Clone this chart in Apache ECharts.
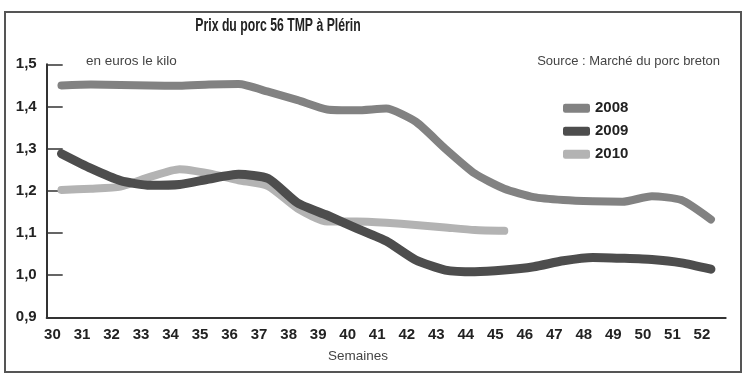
<!DOCTYPE html>
<html>
<head>
<meta charset="utf-8">
<script src="https://cdn.jsdelivr.net/npm/echarts@6/dist/echarts.min.js"></script>
<style>html,body{margin:0;padding:0;background:#fff}#c{width:747px;height:378px}</style>
</head>
<body>
<div id="c"></div>
<script>
var weeks = ['30','31','32','33','34','35','36','37','38','39','40','41','42','43','44','45','46','47','48','49','50','51','52'];
var p2008 = [1.450,1.452,1.451,1.450,1.449,1.452,1.453,1.435,1.415,1.393,1.391,1.395,1.364,1.300,1.241,1.205,1.185,1.178,1.175,1.174,1.187,1.178,1.132];
var p2009 = [1.288,1.253,1.224,1.213,1.215,1.228,1.239,1.229,1.171,1.142,1.111,1.081,1.036,1.012,1.008,1.012,1.020,1.034,1.042,1.040,1.037,1.029,1.014];
var p2010 = [1.202,1.205,1.210,1.233,1.251,1.241,1.225,1.211,1.158,1.127,1.127,1.124,1.119,1.113,1.107,1.105,null,null,null,null,null,null,null];
var seriesNames = ['2008','2009','2010'];
var titleText = 'Prix du porc 56 TMP à Plérin';
var unitText = 'en euros le kilo';
var sourceText = 'Source : Marché du porc breton';
var xName = 'Semaines';

var reg = '"Liberation Sans", Arial, sans-serif';
var chart = echarts.init(document.getElementById('c'));
chart.setOption({
  animation: false,
  backgroundColor: '#fff',
  grid: {left: 46.7, right: 21.3, top: 64.3, bottom: 60.7, containLabel: false},
  graphic: [
    {type: 'rect', shape: {x: 5, y: 12, width: 736, height: 360}, style: {fill: 'none', stroke: '#555', lineWidth: 2}},
    {type: 'text', x: 278, y: 26, scaleX: 0.68, style: {text: titleText, font: 'bold 18px ' + reg, fill: '#222', textAlign: 'center', textVerticalAlign: 'middle'}},
    {type: 'text', x: 86, y: 61.5, style: {text: unitText, font: '13.5px ' + reg, fill: '#444', textAlign: 'left', textVerticalAlign: 'middle'}},
    {type: 'text', x: 720, y: 61, style: {text: sourceText, font: '13px ' + reg, fill: '#444', textAlign: 'right', textVerticalAlign: 'middle'}},
    {type: 'text', x: 358, y: 356, style: {text: xName, font: '13.5px ' + reg, fill: '#444', textAlign: 'center', textVerticalAlign: 'middle'}}
  ],
  legend: {
    orient: 'vertical', left: 563, top: 100.3, padding: 0,
    data: seriesNames,
    icon: 'roundRect', itemWidth: 27, itemHeight: 9, itemGap: 7,
    textStyle: {fontFamily: reg, fontWeight: 'bold', fontSize: 15, color: '#222', lineHeight: 16}
  },
  xAxis: {
    type: 'category', data: weeks, boundaryGap: true,
    axisLine: {lineStyle: {color: '#333', width: 2}},
    axisTick: {inside: true, length: 6, interval: 0, lineStyle: {color: '#333', width: 1.5}},
    axisLabel: {interval: 0, margin: 10, padding: [0, 18, 0, 0], fontFamily: reg, fontWeight: 'bold', fontSize: 15, color: '#222'},
    splitLine: {show: false}
  },
  yAxis: {
    type: 'value', min: 0.9, max: 1.5, interval: 0.1,
    axisLine: {show: true, lineStyle: {color: '#333', width: 2}},
    axisTick: {show: true, inside: true, length: 16, lineStyle: {color: '#333', width: 1.5}},
    axisLabel: {margin: 10, padding: [8, 0, 0, 0], fontFamily: reg, fontWeight: 'bold', fontSize: 15, color: '#222',
      formatter: function (v) { return v.toFixed(1).replace('.', ','); }},
    splitLine: {show: false}
  },
  series: [
    {name: seriesNames[0], type: 'line', data: p2008, smooth: 0.2, symbol: 'none', z: 2,
      lineStyle: {color: '#828282', width: 8, cap: 'round', join: 'round'}, itemStyle: {color: '#828282'}},
    {name: seriesNames[1], type: 'line', data: p2009, smooth: 0.2, symbol: 'none', z: 4,
      lineStyle: {color: '#4d4d4d', width: 9, cap: 'round', join: 'round'}, itemStyle: {color: '#4d4d4d'}},
    {name: seriesNames[2], type: 'line', data: p2010, smooth: 0.2, symbol: 'none', z: 3,
      lineStyle: {color: '#b3b3b3', width: 8, cap: 'round', join: 'round'}, itemStyle: {color: '#b3b3b3'}}
  ]
});
</script>
</body>
</html>
